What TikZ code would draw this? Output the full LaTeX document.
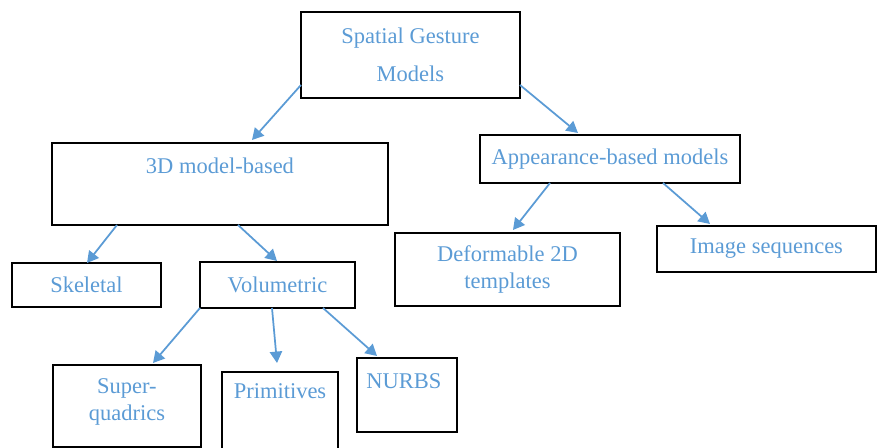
\documentclass[tikz,border=0pt]{standalone}
\usepackage{fontspec}
\setmainfont{Liberation Serif}
\usepackage{tikz}
\usetikzlibrary{calc}
\usetikzlibrary{positioning}
\usetikzlibrary{arrows.meta}
\definecolor{txtblue}{HTML}{5B9BD5}
\newcommand{\gfont}{\fontsize{12.8}{15.3}\selectfont}

\begin{document}
\begin{tikzpicture}[x=0.02cm, y=-0.02cm,
    box/.style={draw=black, line width=1.2pt, anchor=north west, inner sep=0pt, outer sep=0pt, text=txtblue, font=\gfont, align=center},
    lbl/.style={text=txtblue, font=\gfont, inner sep=0pt, align=center},
    arr/.style={draw=txtblue, line width=1pt, -{Triangle[length=6.5pt,width=7pt]}}]
    \useasboundingbox (0,0) rectangle (877,448);
    \clip (0,0) rectangle (877,448);
    % top level
    \node[box, minimum width=4.38cm, minimum height=1.72cm] (sgm) at (301,12) {Spatial Gesture\\[6.2pt]Models};
    % second level
    \node[box, minimum width=6.72cm, minimum height=1.64cm] (tdm) at (52,143) {};
    \node[lbl, below=0.29cm of tdm.north] (tdmtext) {3D model-based};
    \node[box, minimum width=5.2cm, minimum height=0.96cm] (app) at (480,135) {Appearance-based models};
    % third level
    \node[box, minimum width=2.98cm, minimum height=0.88cm] (skel) at (12,263) {Skeletal};
    \node[box, minimum width=3.1cm, minimum height=0.92cm] (vol) at (200,262) {Volumetric};
    \node[box, minimum width=4.5cm, minimum height=1.46cm] (def) at (395,233) {Deformable 2D\\templates};
    \node[box, minimum width=4.38cm, minimum height=0.92cm] (img) at (657,226) {Image sequences};
    % fourth level
    \node[box, minimum width=2.96cm, minimum height=1.64cm] (sup) at (53,365) {};
    \node[lbl, below=0.27cm of sup.north] (suptext) {Super-\\quadrics};
    \node[box, minimum width=2.32cm, minimum height=2cm] (prim) at (222,372) {};
    \node[lbl, below=0.23cm of prim.north] (primtext) {Primitives};
    \node[box, minimum width=2cm, minimum height=1.48cm] (nurbs) at (357,358) {};
    \node[lbl, anchor=north west, below right=0.3cm and 0.18cm of nurbs.north west] (nurbstext) {NURBS};
    % connectors
    \draw[arr] ($(sgm.south west)+(0,-13)$) -- ($(tdm.north west)+(200,-3)$);
    \draw[arr] ($(sgm.south east)+(0,-13)$) -- ($(app.north west)+(98,-2)$);
    \draw[arr] ($(tdm.south west)+(65,0)$) -- ($(skel.north west)+(75,0)$);
    \draw[arr] ($(tdm.south west)+(186,0)$) -- ($(vol.north west)+(77,-1)$);
    \draw[arr] ($(app.south west)+(70,0)$) -- ($(def.north west)+(118,-3)$);
    \draw[arr] ($(app.south west)+(183,0)$) -- ($(img.north west)+(53,-2)$);
    \draw[arr] (vol.south west) -- ($(sup.north west)+(100,-2)$);
    \draw[arr] ($(vol.south west)+(72,0)$) -- ($(prim.north west)+(55,-9)$);
    \draw[arr] ($(vol.south west)+(123,0)$) -- ($(nurbs.north west)+(20,-2)$);
\end{tikzpicture}
\end{document}
